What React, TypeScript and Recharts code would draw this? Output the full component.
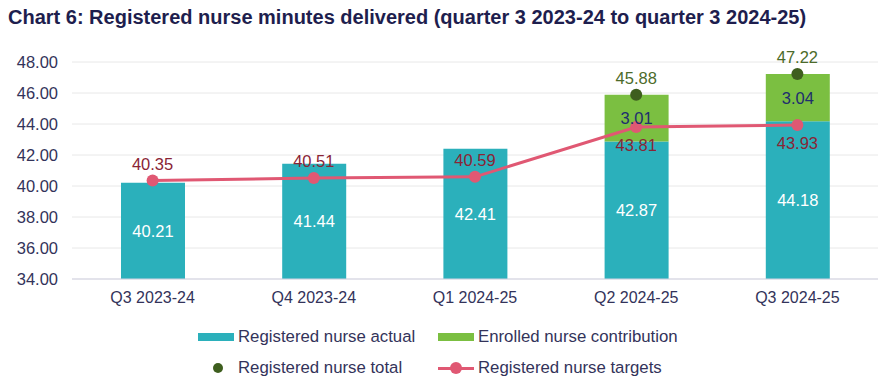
import React from "react";
import { ComposedChart, Bar, Line, XAxis, YAxis, CartesianGrid, LabelList } from "recharts";

const quarters = ["Q3 2023-24", "Q4 2023-24", "Q1 2024-25", "Q2 2024-25", "Q3 2024-25"];
const rnActual = [40.21, 41.44, 42.41, 42.87, 44.18];
const enrolledContribution = [null, null, null, 3.01, 3.04];
const rnTotal = [null, null, null, 45.88, 47.22];
const rnTargets = [40.35, 40.51, 40.59, 43.81, 43.93];
const yTicks = [34, 36, 38, 40, 42, 44, 46, 48];

const data = quarters.map((q, i) => ({
  name: q,
  actual: rnActual[i],
  enrolled: enrolledContribution[i],
  total: rnTotal[i],
  target: rnTargets[i],
}));

const FONT = "'Liberation Sans', Arial, sans-serif";
const TEAL = "#2BB0BB";
const GREEN = "#7BBF41";
const DARK_GREEN = "#3E5E1E";
const PINK = "#E05873";
const TEXT = "#33335A";

// target labels sit above the point for the first three quarters, below after
const TargetLabel = (props: any) => {
  const { x, y, value, index } = props;
  if (value == null) return null;
  const below = index >= 3;
  return (
    <text x={x} y={below ? y + 24 : y - 11} textAnchor="middle" fill="#8A2435" fontSize={16.5} fontFamily={FONT}>
      {Number(value).toFixed(2)}
    </text>
  );
};

const LegendRow = ({ items }: { items: { label: string; kind: string; color: string }[] }) => (
  <div style={{ display: "flex", height: 31, alignItems: "center" }}>
    {items.map((it, i) => (
      <div key={i} style={{ display: "flex", alignItems: "center", width: i === 0 ? 240 : 300 }}>
        <div style={{ width: 36, height: 12, position: "relative", marginRight: 4 }}>
          {it.kind === "bar" && <div style={{ position: "absolute", left: 0, top: 2, width: 36, height: 8, background: it.color }} />}
          {it.kind === "dot" && (
            <div style={{ position: "absolute", left: 15, top: 1, width: 10, height: 10, borderRadius: 5, background: it.color }} />
          )}
          {it.kind === "line" && (
            <>
              <div style={{ position: "absolute", left: 0, top: 5, width: 36, height: 3, background: it.color }} />
              <div style={{ position: "absolute", left: 12, top: 0, width: 12, height: 12, borderRadius: 6, background: it.color }} />
            </>
          )}
        </div>
        <span style={{ fontSize: 16.8, color: TEXT, fontFamily: FONT }}>{it.label}</span>
      </div>
    ))}
  </div>
);

export default function App() {
  return (
    <div style={{ position: "absolute", left: 0, top: 0, width: 888, height: 385, background: "#fff", fontFamily: FONT }}>
      <div style={{ position: "absolute", left: 8, top: 6, fontSize: 20, fontWeight: "bold", color: "#1E1E4E" }}>
        Chart 6: Registered nurse minutes delivered (quarter 3 2023-24 to quarter 3 2024-25)
      </div>
      <div style={{ position: "absolute", left: 0, top: 0 }}>
        <ComposedChart width={888} height={316} data={data} margin={{ top: 62, right: 10, bottom: 7, left: 0 }} barCategoryGap="30%">
          <CartesianGrid vertical={false} stroke="#E8E8E8" />
          <XAxis
            dataKey="name"
            axisLine={{ stroke: "#D3D3E3" }}
            tickLine={false}
            height={30}
            tick={{ fill: TEXT, fontSize: 16, fontFamily: FONT, dy: 5 }}
          />
          <YAxis
            domain={[34, 48]}
            ticks={yTicks}
            width={72}
            axisLine={false}
            tickLine={false}
            allowDataOverflow
            tickFormatter={(v: number) => v.toFixed(2)}
            tick={{ fill: TEXT, fontSize: 16.5, fontFamily: FONT, dx: -6 }}
          />
          <Bar dataKey="actual" stackId="a" fill={TEAL} barSize={64} isAnimationActive={false}>
            <LabelList
              dataKey="actual"
              position="center"
              fill="#ffffff"
              fontSize={16.5}
              fontFamily={FONT}
              formatter={(v: any) => Number(v).toFixed(2)}
            />
          </Bar>
          <Bar dataKey="enrolled" stackId="a" fill={GREEN} barSize={64} isAnimationActive={false}>
            <LabelList
              dataKey="enrolled"
              position="center"
              fill="#1E2E6E"
              fontSize={16.5}
              fontFamily={FONT}
              formatter={(v: any) => (v == null ? "" : Number(v).toFixed(2))}
            />
          </Bar>
          <Line
            dataKey="target"
            stroke={PINK}
            strokeWidth={3}
            dot={{ r: 6, fill: PINK, stroke: PINK, strokeWidth: 0 }}
            activeDot={false}
            isAnimationActive={false}
          >
            <LabelList dataKey="target" content={<TargetLabel />} />
          </Line>
          <Line
            dataKey="total"
            stroke="none"
            dot={{ r: 6, fill: DARK_GREEN, stroke: DARK_GREEN, strokeWidth: 0 }}
            activeDot={false}
            connectNulls={false}
            isAnimationActive={false}
          >
            <LabelList
              dataKey="total"
              position="top"
              offset={11}
              fill="#4C6B2A"
              fontSize={16.5}
              fontFamily={FONT}
              formatter={(v: any) => (v == null ? "" : Number(v).toFixed(2))}
            />
          </Line>
        </ComposedChart>
      </div>
      <div style={{ position: "absolute", left: 198, top: 321 }}>
        <LegendRow
          items={[
            { label: "Registered nurse actual", kind: "bar", color: TEAL },
            { label: "Enrolled nurse contribution", kind: "bar", color: GREEN },
          ]}
        />
        <LegendRow
          items={[
            { label: "Registered nurse total", kind: "dot", color: DARK_GREEN },
            { label: "Registered nurse targets", kind: "line", color: PINK },
          ]}
        />
      </div>
    </div>
  );
}
